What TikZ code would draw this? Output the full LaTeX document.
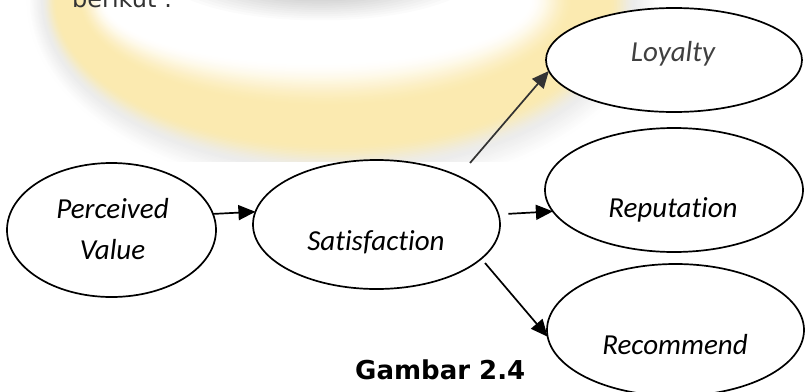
\documentclass[tikz,border=0pt]{standalone}
\usepackage{fontspec}
\setmainfont{Carlito}[Ligatures=NoCommon]
\newfontfamily\introfont{DejaVu Sans}
\usetikzlibrary{shapes.geometric,arrows.meta}

\definecolor{wmyellow}{RGB}{251,234,176}
\definecolor{wmshade}{RGB}{236,236,236}

\tikzset{
  ell/.style={draw, ellipse, fill=white, line width=1.7pt, inner sep=0pt, outer sep=0pt},
  lbl/.style={font=\fontsize{29}{41}\selectfont\itshape, anchor=base, inner sep=0pt},
  conn/.style={line width=1.7pt, -{Triangle[length=17pt,width=15pt]}},
}

\begin{document}
\begin{tikzpicture}[x=1pt,y=-1pt]
\useasboundingbox (0,0) rectangle (805,391);
\clip (0,0) rectangle (805,391);
\fill[white] (0,0) rectangle (805,391);

% soft ring in the background
\begin{scope}
  \clip (0,0) rectangle (805,161);
  \foreach \t in {-0.3,-0.28,...,1.5} {
    \pgfmathsetmacro\a{max(0,min(1,(\t+0.2)/0.6))}
    \pgfmathsetmacro\b{max(0,min(1,(1.22-\t)/0.36))}
    \pgfmathsetmacro\I{100*min(\a*\a*(3-2*\a),\b*\b*(3-2*\b))}
    \pgfmathsetmacro\S{100*max(0,min(1,(1.5-\t)/0.3))*(\t>0.5)}
    \pgfmathsetmacro\cx{320+15*\t}
    \pgfmathsetmacro\rx{225+60*\t}
    \pgfmathsetmacro\ry{78+77*\t}
    \colorlet{edgecol}{wmshade!\S!white}
    \draw[line width=3pt, color=wmyellow!\I!edgecol]
      (\cx,0) ellipse [x radius=\rx pt, y radius=\ry pt];
  }
  % shadow on the far inner side of the ring
  \foreach \s in {0.6,0.65,...,1.22} {
    \fill[black, opacity=0.016] (320,-30) ellipse [x radius=135*\s pt, y radius=42*\s pt];
  }
\end{scope}

\node[font=\introfont\fontsize{24}{24}\selectfont, text=black!80, anchor=base west, inner sep=0pt]
  (intro) at (72,7) {berikut :};

% constructs
\node[ell, minimum width=209pt, minimum height=134pt] (pv)  at (111.5,230) {};
\node[ell, minimum width=247pt, minimum height=129pt] (sat) at (376.5,224.5) {};
\node[ell, minimum width=256pt, minimum height=104pt] (loy) at (674,60) {};
\node[ell, minimum width=258pt, minimum height=124pt] (rep) at (674,190) {};
\node[ell, minimum width=257pt, minimum height=132pt] (rec) at (675.5,330) {};

\node[lbl] (pvA)  at (112.5,218) {Perceived};
\node[lbl] (pvB)  at (112.5,259) {Value};
\node[lbl] (satT) at (376,250) {Satisfaction};
\node[lbl, text=black!75] (loyT) at (673,61) {Loyalty};
\node[lbl] (repT) at (673,217) {Reputation};
\node[lbl] (recT) at (675,354) {Recommend};

% relations
\draw[conn] (pv.9.5) -- (sat.174.6);
\draw[conn, black!80] ([shift={(93.5,-61.5)}]sat.center) -- (loy.185.8);
\draw[conn] ([xshift=10pt]sat.5.9) -- (rep.190.85);
\draw[conn] ([shift={(108.5,38.5)}]sat.center) -- (rec.183.1);

\node[font=\introfont\bfseries\fontsize{26}{26}\selectfont, anchor=base west, inner sep=0pt]
  (cap) at (355,379) {Gambar 2.4};
\end{tikzpicture}
\end{document}
